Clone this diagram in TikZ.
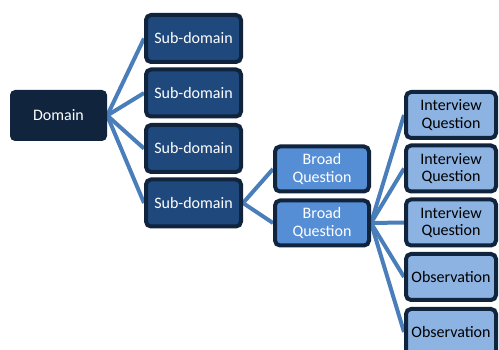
\documentclass[tikz,border=0pt]{standalone}
\usepackage{fontspec}
\setmainfont{Carlito}
\usetikzlibrary{positioning, backgrounds}
\definecolor{domDark}{HTML}{10243E}
\definecolor{subBlue}{HTML}{1F497D}
\definecolor{broadBlue}{HTML}{558ED5}
\definecolor{leafBlue}{HTML}{8DB3E2}
\definecolor{linkBlue}{HTML}{4A7EBB}

\begin{document}
\begin{tikzpicture}[x=1pt, y=-1pt,
    box/.style={rectangle, rounded corners=5pt, align=center, inner sep=0pt,
                font=\fontsize{16}{17.5}\selectfont},
    dombox/.style={box, fill=domDark, text=white, minimum width=97pt,
                   minimum height=51pt},
    subbox/.style={box, draw=domDark, line width=4pt, fill=subBlue,
                   text=white, minimum width=95pt, minimum height=47pt},
    broadbox/.style={box, draw=domDark, line width=4pt, fill=broadBlue,
                     text=white, minimum width=94pt, minimum height=45pt},
    leafbox/.style={box, draw=domDark, line width=4pt, fill=leafBlue,
                    text=black, minimum width=90pt, minimum height=46pt},
    link/.style={linkBlue, line width=4pt},
  ]
    \useasboundingbox (0,0) rectangle (499,350);

    \node[dombox] (dom) at (58.5,115.5) {Domain};

    \node[subbox] (sub1) at (193.5,38.5)  {Sub-domain};
    \node[subbox] (sub2) at (193.5,93)    {Sub-domain};
    \node[subbox] (sub3) at (193.5,148.5) {Sub-domain};
    \node[subbox] (sub4) at (193.5,203)   {Sub-domain};

    \node[broadbox] (broad1) at (322,169) {Broad\\Question};
    \node[broadbox] (broad2) at (322,223) {Broad\\Question};

    \node[leafbox] (leaf1) at (451,115)   {Interview\\Question};
    \node[leafbox] (leaf2) at (451,168.5) {Interview\\Question};
    \node[leafbox] (leaf3) at (451,222.5) {Interview\\Question};
    \node[leafbox] (leaf4) at (451,277)   {Observation};
    \node[leafbox] (leaf5) at (451,332)   {Observation};

    \begin{scope}[on background layer]
      \foreach \n in {1,...,4}
        \draw[link] (dom.east) -- (sub\n.west);
      \foreach \n in {1,2}
        \draw[link] (sub4.east) -- (broad\n.west);
      \foreach \n in {1,...,5}
        \draw[link] (broad2.east) -- (leaf\n.west);
    \end{scope}
  \end{tikzpicture}
\end{document}
